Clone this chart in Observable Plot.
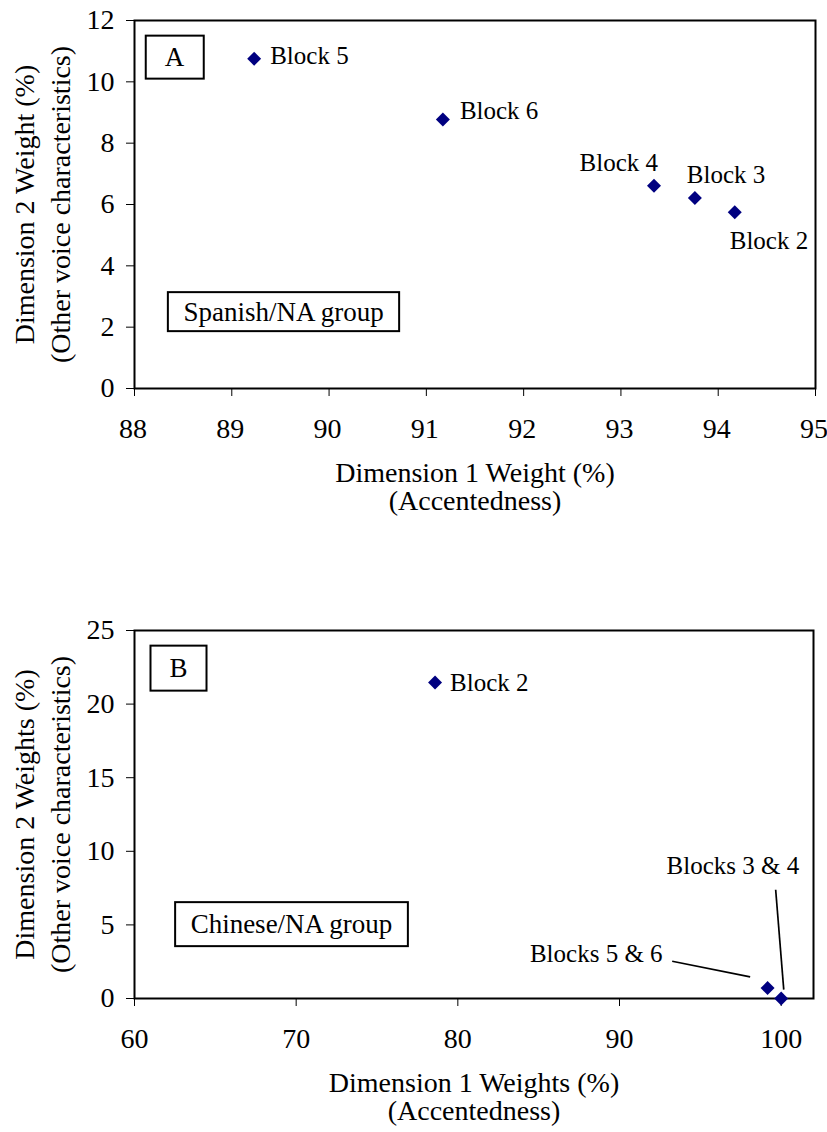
<!DOCTYPE html>
<html><head><meta charset="utf-8">
<script src="https://cdn.jsdelivr.net/npm/d3@7"></script>
<script src="https://cdn.jsdelivr.net/npm/@observablehq/plot@0.6"></script>
<style>
body{margin:0;background:#fff;font-family:"Liberation Serif","DejaVu Serif",serif;}
#chart svg{display:block;}
</style></head><body><div id="chart"></div>
<script>
const FONT = "Liberation Serif, DejaVu Serif, serif";

// ---- Panel A: Spanish/NA group ----
const blocksA = ["Block 2", "Block 3", "Block 4", "Block 5", "Block 6"];
const dim1A = [94.17, 93.76, 93.34, 89.23, 91.17];
const dim2A = [5.75, 6.21, 6.61, 10.75, 8.77];
const xTicksA = [88, 89, 90, 91, 92, 93, 94, 95];
const yTicksA = [0, 2, 4, 6, 8, 10, 12];
const xTitleA = "Dimension 1 Weight (%)\n(Accentedness)";
const yTitleA = "Dimension 2 Weight (%)\n(Other voice characteristics)";

// ---- Panel B: Chinese/NA group ----
const blocksB = ["Block 2", "Blocks 3 & 4", "Blocks 5 & 6"];
const dim1B = [78.59, 100.0, 99.16];
const dim2B = [21.46, 0.0, 0.71];
const xTicksB = [60, 70, 80, 90, 100];
const yTicksB = [0, 5, 10, 15, 20, 25];
const xTitleB = "Dimension 1 Weights (%)\n(Accentedness)";
const yTitleB = "Dimension 2 Weights (%)\n(Other voice characteristics)";
// leader lines for panel B labels (data units)
const leaderLabels = ["Blocks 3 & 4", "Blocks 5 & 6"];
const leaderX1 = [99.66, 93.26];
const leaderY1 = [7.39, 2.53];
const leaderX2 = [100.16, 98.08];
const leaderY2 = [0.6, 1.47];

// label placement styles (pixel offsets)
const labelStyleA = {
  "Block 2": {anchor: "start", dx: -5, dy: 29},
  "Block 3": {anchor: "start", dx: -8, dy: -23},
  "Block 4": {anchor: "end", dx: 4, dy: -23},
  "Block 5": {anchor: "start", dx: 16, dy: -3},
  "Block 6": {anchor: "start", dx: 17, dy: -9}
};
const labelStyleB = {
  "Block 2": {anchor: "start", dx: 15, dy: 0},
  "Blocks 3 & 4": {anchor: "end", dx: 18, dy: -133},
  "Blocks 5 & 6": {anchor: "end", dx: -105, dy: -34}
};

const dataA = blocksA.map((b, i) => ({block: b, x: dim1A[i], y: dim2A[i]}));
const dataB = blocksB.map((b, i) => ({block: b, x: dim1B[i], y: dim2B[i]}));
const leaders = leaderLabels.map((l, i) => ({label: l, x1: leaderX1[i], y1: leaderY1[i], x2: leaderX2[i], y2: leaderY2[i]}));

const fmt = d => String(d);

function labelMarks(data, styles) {
  return data.map(d => Plot.text([d], {
    x: "x", y: "y", text: "block",
    textAnchor: styles[d.block].anchor, dx: styles[d.block].dx, dy: styles[d.block].dy,
    fontSize: 25, fill: "black", fontFamily: FONT
  }));
}
function titleMarks(xTitle, yTitle) {
  return [
    Plot.text([xTitle], {text: d => d, frameAnchor: "bottom", textAnchor: "middle", lineAnchor: "top",
      dy: 74, lineHeight: 1.0, fontSize: 28, fill: "black", fontFamily: FONT}),
    Plot.text([yTitle], {text: d => d, frameAnchor: "left", rotate: -90, textAnchor: "middle", lineAnchor: "top",
      dx: -126, lineHeight: 1.275, fontSize: 28, fill: "black", fontFamily: FONT})
  ];
}
function axisMarks(xTicks, yTicks, xTextDx) {
  return [
    Plot.axisY(yTicks, {tickSize: 8, tickPadding: 12, tickFormat: fmt, label: null, fontSize: 28}),
    Plot.axisX(xTicks, {tickSize: 8, tickFormat: () => "", label: null}),
    Plot.axisX(xTicks, {tickSize: 0, tickPadding: 30, tickFormat: fmt, label: null, fontSize: 28, dx: xTextDx})
  ];
}
function boxMark(label, dx, dy) {
  return Plot.text([label], {text: d => d, frameAnchor: "top-left", dx, dy, textAnchor: "middle", lineAnchor: "middle",
    fontSize: 27, fill: "black", fontFamily: FONT});
}
const common = {
  width: 827, height: 566, marginLeft: 134,
  style: {fontFamily: FONT, fontSize: "28px", color: "black", background: "white"}
};

const plotA = Plot.plot({
  ...common, marginTop: 20, marginBottom: 178, marginRight: 12,
  x: {domain: [88, 95]},
  y: {domain: [0, 12]},
  marks: [
    ...axisMarks(xTicksA, yTicksA, -1.5),
    Plot.frame({stroke: "black", strokeWidth: 2}),
    boxMark("A", 40, 37),
    boxMark("Spanish/NA group", 149, 291.5),
    Plot.dot(dataA, {x: "x", y: "y", symbol: "diamond2", r: 6.3, fill: "#000080", stroke: "none"}),
    ...labelMarks(dataA, labelStyleA),
    ...titleMarks(xTitleA, yTitleA)
  ]
});

const plotB = Plot.plot({
  ...common, marginTop: 64, marginBottom: 134, marginRight: 14,
  x: {domain: [60, 102]},
  y: {domain: [0, 25]},
  marks: [
    ...axisMarks(xTicksB, yTicksB, 0),
    Plot.frame({stroke: "black", strokeWidth: 2}),
    boxMark("B", 44, 38),
    boxMark("Chinese/NA group", 157, 294),
    Plot.link(leaders, {x1: "x1", y1: "y1", x2: "x2", y2: "y2", stroke: "black", strokeWidth: 1.7}),
    Plot.dot(dataB, {x: "x", y: "y", symbol: "diamond2", r: 6.3, fill: "#000080", stroke: "none"}),
    ...labelMarks(dataB, labelStyleB),
    ...titleMarks(xTitleB, yTitleB)
  ]
});

const chart = document.getElementById("chart");
chart.appendChild(plotA);
chart.appendChild(plotB);

// draw rectangular frames around the panel letter and group labels
const pads = {"A": [19, 6.5], "B": [19, 7.5], "Spanish/NA group": [15.5, 4.5], "Chinese/NA group": [15.5, 7]};
chart.querySelectorAll("text").forEach(t => {
  const p = pads[t.textContent];
  if (!p || t.closest("[aria-label*='tick']")) return;
  const [px, py] = p;
  const b = t.getBBox();
  const r = document.createElementNS("http://www.w3.org/2000/svg", "rect");
  r.setAttribute("x", b.x - px);
  r.setAttribute("y", b.y - py);
  r.setAttribute("width", b.width + 2 * px);
  r.setAttribute("height", b.height + 2 * py);
  r.setAttribute("fill", "white");
  r.setAttribute("stroke", "black");
  r.setAttribute("stroke-width", 2);
  const tr = t.getAttribute("transform");
  if (tr) r.setAttribute("transform", tr);
  t.parentNode.insertBefore(r, t);
});
</script>
</body></html>
